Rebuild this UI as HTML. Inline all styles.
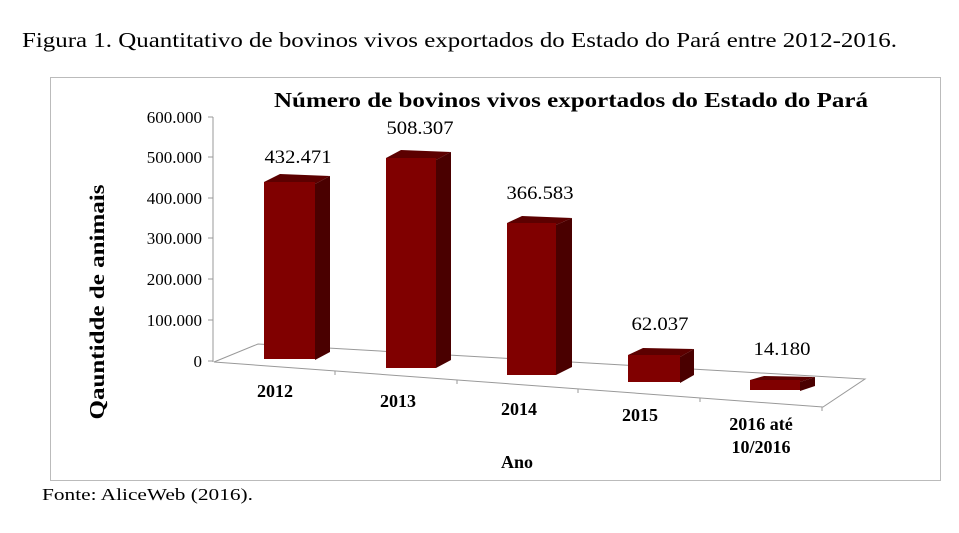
<!DOCTYPE html>
<html><head><meta charset="utf-8"><style>
body{margin:0;background:#fff;}
svg{display:block;font-family:"Liberation Serif",serif;}
</style></head><body>
<svg width="959" height="533" viewBox="0 0 959 533">
<rect width="959" height="533" fill="#fff"/>
<text x="22" y="47" font-size="21" fill="#000" textLength="875" lengthAdjust="spacingAndGlyphs">Figura 1. Quantitativo de bovinos vivos exportados do Estado do Pará entre 2012-2016.</text>
<rect x="50.5" y="77.5" width="890" height="403" fill="#fff" stroke="#bbb" stroke-width="1"/>
<text x="274" y="107" font-size="21" font-weight="bold" textLength="594" lengthAdjust="spacingAndGlyphs">Número de bovinos vivos exportados do Estado do Pará</text>
<g stroke="#999" stroke-width="1" fill="none">
<line x1="213" y1="117" x2="213" y2="362"/>
<line x1="208" y1="117" x2="213" y2="117"/><line x1="208" y1="157" x2="213" y2="157"/>
<line x1="208" y1="198" x2="213" y2="198"/><line x1="208" y1="238" x2="213" y2="238"/>
<line x1="208" y1="279" x2="213" y2="279"/><line x1="208" y1="320" x2="213" y2="320"/>
<line x1="208" y1="361" x2="213" y2="361"/>
<polygon points="214,362 258,344 865,379 823,407"/>
<line x1="335" y1="371" x2="335" y2="375"/><line x1="457" y1="380" x2="457" y2="384"/>
<line x1="578" y1="389" x2="578" y2="393"/><line x1="700" y1="398" x2="700" y2="402"/>
<line x1="822" y1="407" x2="822" y2="411"/>
</g>
<g font-size="17" text-anchor="end">
<text x="202" y="123">600.000</text><text x="202" y="163">500.000</text>
<text x="202" y="204">400.000</text><text x="202" y="244">300.000</text>
<text x="202" y="285">200.000</text><text x="202" y="326">100.000</text>
<text x="202" y="367">0</text>
</g>
<text transform="translate(104,302) rotate(-90)" font-size="21" font-weight="bold" text-anchor="middle" textLength="235" lengthAdjust="spacingAndGlyphs">Qauntidde de animais</text>
<g>
<polygon points="264,182 315,184 330,176 280,174" fill="#5c0000"/>
<polygon points="315,184 330,176 330,352 315,360" fill="#4a0000"/>
<rect x="264" y="182" width="51" height="177" fill="#800000"/>
<polygon points="386,158 436,160 451,152 401,150" fill="#5c0000"/>
<polygon points="436,160 451,152 451,360 436,368" fill="#4a0000"/>
<rect x="386" y="158" width="50" height="210" fill="#800000"/>
<polygon points="507,223 556,225 572,218 522,216" fill="#5c0000"/>
<polygon points="556,225 572,218 572,367 556,375" fill="#4a0000"/>
<rect x="507" y="223" width="49" height="152" fill="#800000"/>
<polygon points="628,355 680,357 694,349 643,348" fill="#5c0000"/>
<polygon points="680,357 694,349 694,375 680,383" fill="#4a0000"/>
<rect x="628" y="355" width="52" height="27" fill="#800000"/>
<polygon points="750,380 800,382 815,377 764,376" fill="#5c0000"/>
<polygon points="800,382 815,377 815,386 800,391" fill="#4a0000"/>
<rect x="750" y="380" width="50" height="10" fill="#800000"/>
</g>
<g font-size="19" text-anchor="middle">
<text x="298" y="163" textLength="67" lengthAdjust="spacingAndGlyphs">432.471</text>
<text x="420" y="134" textLength="67" lengthAdjust="spacingAndGlyphs">508.307</text>
<text x="540" y="199" textLength="67" lengthAdjust="spacingAndGlyphs">366.583</text>
<text x="660" y="330" textLength="57" lengthAdjust="spacingAndGlyphs">62.037</text>
<text x="782" y="355" textLength="57" lengthAdjust="spacingAndGlyphs">14.180</text>
</g>
<g font-size="18" font-weight="bold" text-anchor="middle">
<text x="275" y="397">2012</text><text x="398" y="407">2013</text>
<text x="519" y="415">2014</text><text x="640" y="421">2015</text>
<text x="761" y="430">2016 até</text><text x="761" y="453">10/2016</text>
<text x="517" y="468">Ano</text>
</g>
<text x="42" y="500" font-size="17" textLength="211" lengthAdjust="spacingAndGlyphs">Fonte: AliceWeb (2016).</text>
</svg>
</body></html>
